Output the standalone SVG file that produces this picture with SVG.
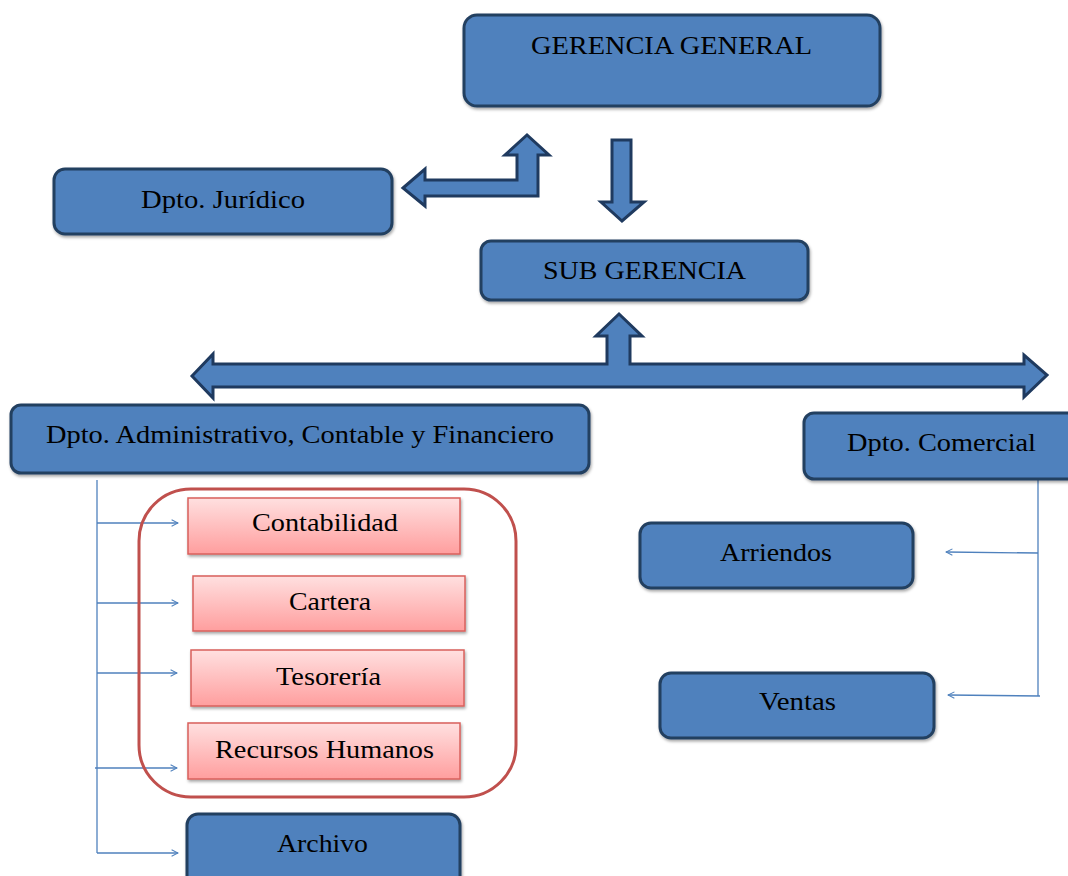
<svg xmlns="http://www.w3.org/2000/svg" width="1068" height="876" viewBox="0 0 1068 876">
<defs>
<style>
.box{fill:#4F81BD;stroke:#243F60;stroke-width:3}
.blk{fill:#4F81BD;stroke:#1F3A5F;stroke-width:3;stroke-linejoin:miter}
.pink{fill:url(#pg);stroke:#D9605C;stroke-width:1.5}
.t{font-family:"Liberation Serif","Times New Roman",serif;font-size:25px;fill:#000;text-anchor:middle;dominant-baseline:central}
.ln{fill:none;stroke:#4F81BD;stroke-width:1.3}
</style>
<linearGradient id="pg" x1="0" y1="0" x2="0" y2="1">
<stop offset="0" stop-color="#FFE0E0"/>
<stop offset="1" stop-color="#FF9E9E"/>
</linearGradient>
<filter id="sh" x="-5%" y="-5%" width="110%" height="120%">
<feDropShadow dx="1" dy="2" stdDeviation="1.5" flood-color="#000" flood-opacity="0.35"/>
</filter>
<marker id="oa" viewBox="0 0 10 10" refX="9" refY="5" markerWidth="8" markerHeight="8" markerUnits="userSpaceOnUse" orient="auto">
<path d="M1,1 L9,5 L1,9" fill="none" stroke="#4F81BD" stroke-width="1.3"/>
</marker>
</defs>
<rect width="1068" height="876" fill="#fff"/>

<g id="connectors">
<path class="blk" d="M403,188 L425,169 L425,180 L517,180 L517,155 L505,155 L527,135 L549,155 L538,155 L538,196 L425,196 L425,206 Z"/>
<path class="blk" d="M612,140 L631,140 L631,202 L644,202 L622,221 L601,202 L612,202 Z"/>
<path class="blk" d="M192,376 L213,354 L213,364 L607,364 L607,336 L596,336 L619,314 L642,336 L630,336 L630,364 L1024,364 L1024,355 L1047,375 L1024,397 L1024,387 L213,387 L213,398 Z"/>
<path class="ln" d="M97,480 L97,853"/>
<path class="ln" d="M97,523 L178,523" marker-end="url(#oa)"/>
<path class="ln" d="M97,603 L178,603" marker-end="url(#oa)"/>
<path class="ln" d="M97,673 L177,673" marker-end="url(#oa)"/>
<path class="ln" d="M95,768 L177,768" marker-end="url(#oa)"/>
<path class="ln" d="M97,853 L178,853" marker-end="url(#oa)"/>
<path class="ln" d="M1038,480 L1038,696"/>
<path class="ln" d="M1038,553 L946,552" marker-end="url(#oa)"/>
<path class="ln" d="M1040,696 L948,695" marker-end="url(#oa)"/>
</g>

<g id="gerencia-general"><rect class="box" x="464" y="15" width="416" height="91" rx="13" filter="url(#sh)"/><text class="t" x="671.5" y="45" textLength="281" lengthAdjust="spacingAndGlyphs">GERENCIA GENERAL</text></g>
<g id="dpto-juridico"><rect class="box" x="54" y="169" width="338" height="65" rx="11" filter="url(#sh)"/><text class="t" x="223" y="199" textLength="164" lengthAdjust="spacingAndGlyphs">Dpto. Jurídico</text></g>
<g id="sub-gerencia"><rect class="box" x="481" y="241" width="327" height="59" rx="10" filter="url(#sh)"/><text class="t" x="644.5" y="270" textLength="203" lengthAdjust="spacingAndGlyphs">SUB GERENCIA</text></g>
<g id="dpto-administrativo"><rect class="box" x="11" y="405" width="578" height="68" rx="10" filter="url(#sh)"/><text class="t" x="300" y="434" textLength="508" lengthAdjust="spacingAndGlyphs">Dpto. Administrativo, Contable y Financiero</text></g>
<g id="dpto-comercial"><rect class="box" x="804" y="413" width="280" height="66" rx="10" filter="url(#sh)"/><text class="t" x="941.5" y="442" textLength="189" lengthAdjust="spacingAndGlyphs">Dpto. Comercial</text></g>
<g id="arriendos"><rect class="box" x="640" y="523" width="273" height="65" rx="11" filter="url(#sh)"/><text class="t" x="776" y="552" textLength="112" lengthAdjust="spacingAndGlyphs">Arriendos</text></g>
<g id="ventas"><rect class="box" x="660" y="673" width="274" height="65" rx="11" filter="url(#sh)"/><text class="t" x="797.5" y="701" textLength="77" lengthAdjust="spacingAndGlyphs">Ventas</text></g>

<g id="grupo-contable"><rect x="139" y="489" width="377" height="308" rx="52" fill="none" stroke="#C0504D" stroke-width="3"/></g>
<g id="contabilidad"><rect class="pink" x="188" y="498" width="272" height="56" filter="url(#sh)"/><text class="t" x="325" y="522" textLength="146" lengthAdjust="spacingAndGlyphs">Contabilidad</text></g>
<g id="cartera"><rect class="pink" x="193" y="576" width="272" height="55" filter="url(#sh)"/><text class="t" x="330" y="601" textLength="82" lengthAdjust="spacingAndGlyphs">Cartera</text></g>
<g id="tesoreria"><rect class="pink" x="191" y="650" width="273" height="56" filter="url(#sh)"/><text class="t" x="328.5" y="676" textLength="105" lengthAdjust="spacingAndGlyphs">Tesorería</text></g>
<g id="recursos-humanos"><rect class="pink" x="188" y="723" width="272" height="56" filter="url(#sh)"/><text class="t" x="324.5" y="749" textLength="219" lengthAdjust="spacingAndGlyphs">Recursos Humanos</text></g>
<g id="archivo"><rect class="box" x="187" y="814" width="273" height="80" rx="11" filter="url(#sh)"/><text class="t" x="322.5" y="843" textLength="91" lengthAdjust="spacingAndGlyphs">Archivo</text></g>
</svg>
